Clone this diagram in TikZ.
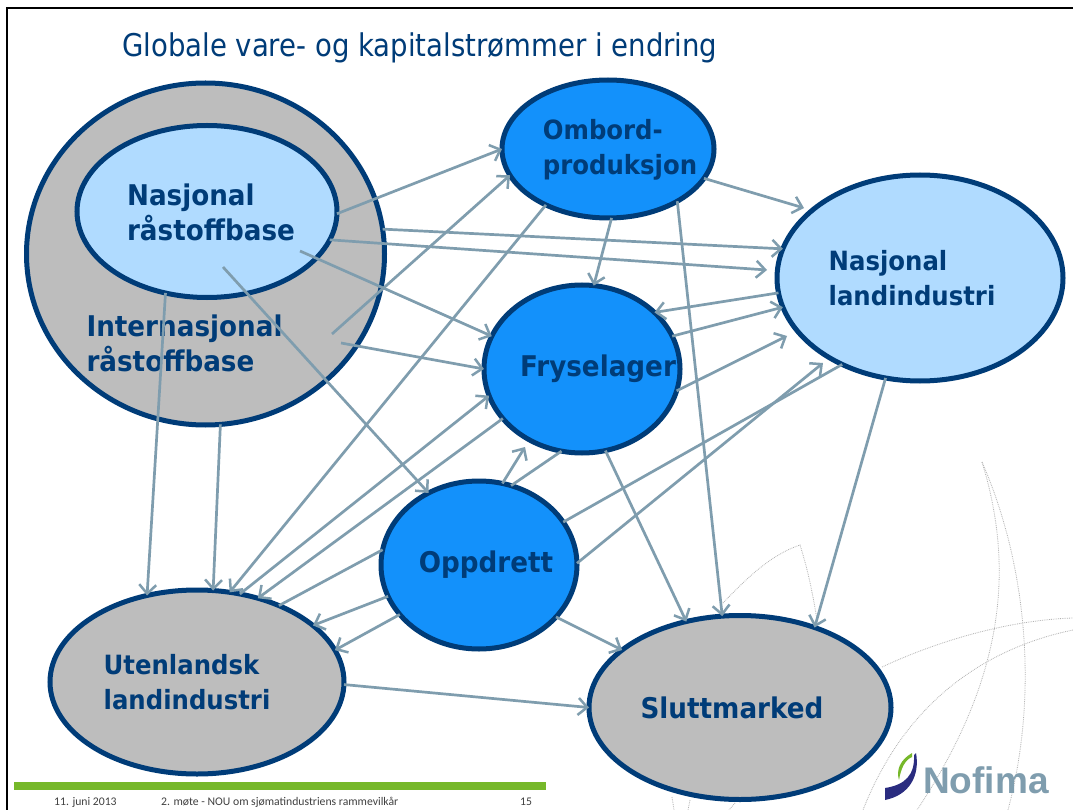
\documentclass[tikz,border=0pt]{standalone}
\usepackage{fontspec}
\setmainfont{DejaVu Sans}
\newfontfamily\blobfont{DejaVu Sans Bold}[FakeStretch=0.92]
\newfontfamily\titlefont{DejaVu Sans}[FakeStretch=0.88]
\newfontfamily\slidefoot{Carlito}
\newfontfamily\logofont{Liberation Sans}
\usetikzlibrary{shapes.geometric, arrows.meta}

\definecolor{navyline}{HTML}{003C78}
\definecolor{greyfill}{HTML}{BDBDBD}
\definecolor{palefill}{HTML}{B0DBFF}
\definecolor{bluefill}{HTML}{1391FB}
\definecolor{flowgrey}{HTML}{7F9DAE}
\definecolor{barGreen}{HTML}{76B82A}
\definecolor{logoNavy}{HTML}{2A2C80}

\begin{document}
\begin{tikzpicture}[x=1pt, y=-1pt,
	blob/.style={ellipse, draw=navyline, line width=5pt, inner sep=0pt, outer sep=0pt},
	flow/.style={draw=flowgrey, line width=2.7pt, -{Straight Barb[length=9pt, width=17pt, line width=2.5pt]}},
	plainflow/.style={draw=flowgrey, line width=2.7pt},
	word/.style={text=navyline, align=left, font=\blobfont\fontsize{28.5}{35}\selectfont},
	slimword/.style={text=navyline, align=left, font=\blobfont\fontsize{26.5}{35}\selectfont},
	footword/.style={anchor=west, inner sep=0pt, text=black!75, font=\slidefoot\fontsize{11.7}{14}\selectfont},
	logoarc/.style={draw=black!30, line width=0.8pt, densely dotted}]
				\useasboundingbox (0,0) rectangle (1073,810);
				\fill[white] (0,0) rectangle (1073,810);
				\draw[line width=2pt] (7,810) -- (7,8) -- (1073,8);
				
				% logo background
				\draw[logoarc] (982,462) .. controls (1012,560) and (1010,670) .. (917,810);
				\draw[logoarc] (982,462) .. controls (1025,560) and (1040,690) .. (1008,810);
				\draw[logoarc] (882,667) .. controls (940,640) and (1010,620) .. (1073,618);
				\draw[logoarc] (1073,630) .. controls (1000,645) and (910,690) .. (863,810);
				\draw[logoarc] (723,603) .. controls (745,580) and (770,555) .. (800,545) .. controls (808,570) and (813,595) .. (817,620);
				\draw[logoarc] (672,797) -- (674,810);
				\draw[logoarc] (690,800) -- (688,810);
				\draw[logoarc] (735,803) -- (729,810);
				
				\node[blob, fill=greyfill, minimum width=358pt, minimum height=342pt] (ro) at (205.5,254){};
				\node[blob, fill=palefill, minimum width=260pt, minimum height=172pt] (ri) at (207,211.5){};
				\node[blob, fill=bluefill, minimum width=212pt, minimum height=138pt] (om) at (608,149){};
				\node[blob, fill=bluefill, minimum width=196pt, minimum height=168pt] (fr) at (582,369){};
				\node[blob, fill=palefill, minimum width=286pt, minimum height=206pt] (na) at (920,278){};
				\node[blob, fill=bluefill, minimum width=196pt, minimum height=168pt] (op) at (479,565){};
				\node[blob, fill=greyfill, minimum width=294pt, minimum height=184pt] (ut) at (197,682){};
				\node[blob, fill=greyfill, minimum width=302pt, minimum height=184pt] (sl) at (740,707.5){};
				
				\node[anchor=base west, inner sep=0pt, text=navyline, font=\titlefont\fontsize{31.3}{34}\selectfont] (title) at (122,57){Globale vare- og kapitalstrømmer i endring};
				\node[word] (riText) at (211,212){Nasjonal\\råstoffbase};
				\node[word] (roText) at (184.5,343){Internasjonal\\råstoffbase};
				\node[slimword] (omText) at (620,150){Ombord-\\produksjon};
				\node[word] (frText) at (598,369){Fryselager};
				\node[slimword] (naText) at (912,278){Nasjonal\\landindustri};
				\node[word] (opText) at (486,565){Oppdrett};
				\node[slimword] (utText) at (187,682){Utenlandsk\\landindustri};
				\node[word] (slText) at (732,708){Sluttmarked};
				
				\coordinate (s2) at (332,334);
				\coordinate (e4) at (767,270);
				\coordinate (s5) at (300,251);
				\coordinate (s6) at (223,267);
				\coordinate (s7) at (341,343);
				\coordinate (e16) at (525,447);
				\coordinate (e19) at (823,363);
				\coordinate (e20) at (787,336);
				\coordinate (e24) at (804,208);
				
				\path (ri.-1.5) edge[flow] (om.180.5);
				\path (s2) edge[flow] (om.195.8);
				\path (ro.8.8) edge[flow] (na.168.8);
				\path (ri.-13.5) edge[flow] (e4);
				\path (s5) edge[flow] (fr.160.7);
				\path (s6) edge[flow] (op.125.6);
				\path (s7) edge[flow] (fr.180);
				\path (ri.243.3) edge[flow] (ut.120.4);
				\path (ro.-85.2) edge[flow] (ut.80.4);
				\path (om.222.2) edge[flow] (ut.70.1);
				\path (ut.64.2) edge[flow] (fr.196.4);
				\path (fr.212.6) edge[flow] (ut.54.8);
				\path (op.171.4) edge[plainflow] (ut.43.9);
				\path (op.199.2) edge[flow] (ut.26.4);
				\path (op.212.4) edge[flow] (ut.13.3);
				\path (op.74.2) edge[flow] (e16);
				\path (op.68.6) edge[plainflow] (fr.256.9);
				\path (op.27.1) edge[plainflow] (na.228.4);
				\path (op.1.7) edge[flow] (e19);
				\path (fr.-13.9) edge[flow] (e20);
				\path (fr.20.1) edge[flow] (na.192.4);
				\path (na.186.1) edge[flow] (fr.38.9);
				\path (om.-87.5) edge[flow] (fr.82.1);
				\path (om.-17.9) edge[flow] (e24);
				\path (om.-37) edge[flow] (sl.101.5);
				\path (fr.-74.4) edge[flow] (sl.122.1);
				\path (na.251.6) edge[flow] (sl.47.7);
				\path (op.-34.5) edge[flow] (sl.154.4);
				\path (ut.-1.5) edge[flow] (sl.180);
				
				% footer and logo
				\fill[barGreen] (14,782) rectangle (546,790);
				\node[footword] (date) at (54,802){11. juni 2013};
				\node[footword] (meeting) at (161,802){2. møte - NOU om sjømatindustriens rammevilkår};
				\node[footword] (page) at (520,802){15};
				\fill[barGreen] (912,753) .. controls (900,760) and (896,770) .. (899,780) .. controls (901,768) and (905,760) .. (912,757) -- cycle;
				\fill[logoNavy] (916,753) .. controls (920,775) and (910,795) .. (885,800) -- (885,788) .. controls (905,785) and (915,775) .. (914,755) -- cycle;
				\node[anchor=base west, inner sep=0pt, text=flowgrey, font=\logofont\bfseries\fontsize{37}{39}\selectfont] (logo) at (923,793){Nofima};
				\end{tikzpicture}
\end{document}
